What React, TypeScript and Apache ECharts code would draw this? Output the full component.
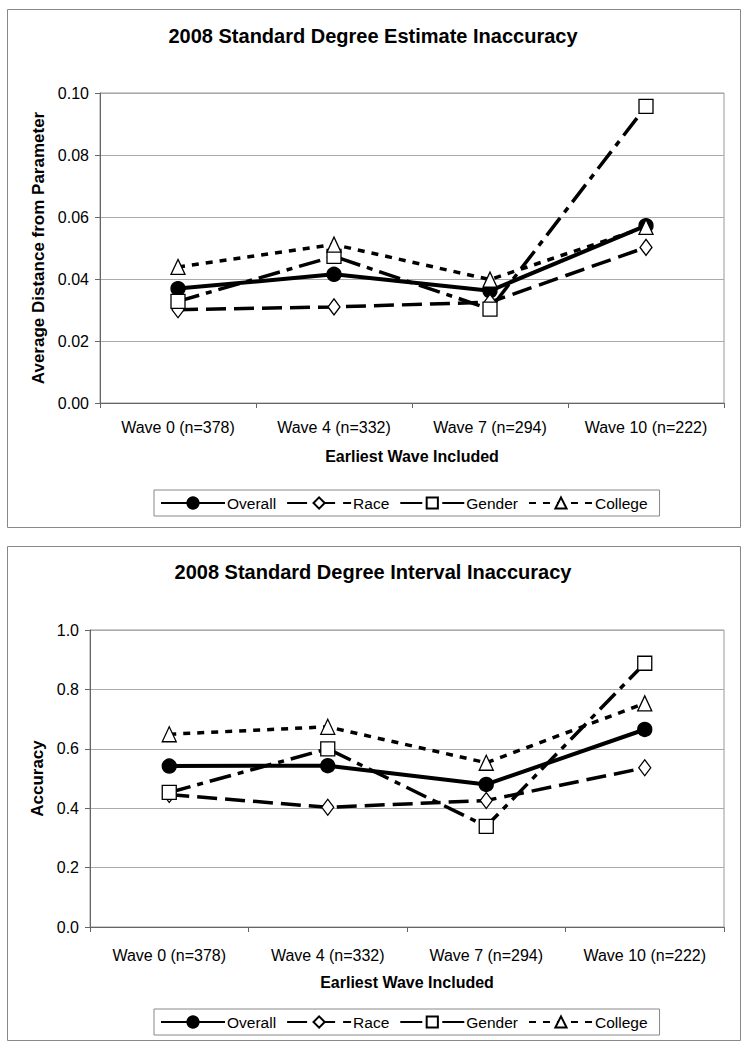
import React, { useEffect, useRef } from 'react';
import * as echarts from 'echarts';

const categories = ['Wave 0 (n=378)', 'Wave 4 (n=332)', 'Wave 7 (n=294)', 'Wave 10 (n=222)'];
const seriesNames = ['Overall', 'Race', 'Gender', 'College'];

// Chart 1: 2008 Standard Degree Estimate Inaccuracy
const estOverall = [0.0369, 0.0415, 0.0362, 0.0572];
const estRace = [0.0301, 0.031, 0.0325, 0.0502];
const estGender = [0.0328, 0.0473, 0.0303, 0.0957];
const estCollege = [0.0439, 0.0511, 0.0398, 0.0568];
const estTicks = [0, 0.02, 0.04, 0.06, 0.08, 0.1];

// Chart 2: 2008 Standard Degree Interval Inaccuracy
const intOverall = [0.542, 0.543, 0.48, 0.665];
const intRace = [0.446, 0.403, 0.426, 0.536];
const intGender = [0.453, 0.6, 0.339, 0.888];
const intCollege = [0.649, 0.674, 0.553, 0.753];
const intTicks = [0, 0.2, 0.4, 0.6, 0.8, 1.0];

const FONT = '"Liberation Sans", Arial, sans-serif';

const styles: Record<string, any> = {
  Overall: { dash: 'solid', width: 4, symbol: 'circle', size: 14, fill: '#000' },
  Race: { dash: [20, 8], width: 3.5, symbol: 'diamond', size: [12, 16], fill: '#fff' },
  Gender: { dash: [22, 7, 6, 7], width: 3.5, symbol: 'rect', size: 14, fill: '#fff' },
  College: { dash: [7, 7], width: 3.5, symbol: 'triangle', size: [14, 15], fill: '#fff' },
};

function mkSeries(name: string, data: number[], idx: number) {
  const s = styles[name];
  return {
    type: 'line',
    name,
    data,
    xAxisIndex: idx,
    yAxisIndex: idx,
    symbol: s.symbol,
    symbolSize: s.size,
    showSymbol: true,
    lineStyle: { color: '#000', width: s.width, type: s.dash },
    itemStyle: { color: s.fill, borderColor: '#000', borderWidth: 1.3 },
    emphasis: { disabled: true },
  };
}

function xAxis(idx: number, margin: number, gap: number) {
  return {
    type: 'category',
    gridIndex: idx,
    data: categories,
    boundaryGap: true,
    axisLine: { show: true, lineStyle: { color: '#666', width: 1 } },
    axisTick: { show: true, length: 5, interval: 0, lineStyle: { color: '#666' } },
    axisLabel: { color: '#000', fontSize: 16, fontFamily: FONT, margin, interval: 0, hideOverlap: false },
    name: 'Earliest Wave Included',
    nameLocation: 'middle',
    nameGap: gap,
    nameTextStyle: { color: '#000', fontSize: 16, fontWeight: 'bold', fontFamily: FONT },
  };
}

function yAxis(idx: number, ticks: number[], digits: number, name: string, gap: number) {
  return {
    type: 'value',
    gridIndex: idx,
    min: ticks[0],
    max: ticks[ticks.length - 1],
    interval: ticks[1] - ticks[0],
    axisLine: { show: true, lineStyle: { color: '#666', width: 1 } },
    axisTick: { show: true, length: 5, lineStyle: { color: '#666' } },
    axisLabel: {
      color: '#000',
      fontSize: 16,
      fontFamily: FONT,
      margin: 11,
      formatter: (v: number) => v.toFixed(digits),
    },
    splitLine: { show: true, lineStyle: { color: '#aaa', width: 1 } },
    name,
    nameLocation: 'middle',
    nameGap: gap,
    nameRotate: 90,
    nameTextStyle: { color: '#000', fontSize: 17, fontWeight: 'bold', fontFamily: FONT },
  };
}

function legend(top: number) {
  return {
    data: seriesNames,
    left: 154,
    top,
    orient: 'horizontal',
    itemWidth: 64,
    itemHeight: 14,
    itemGap: 10,
    padding: [5, 12, 5, 6],
    borderColor: '#888',
    borderWidth: 1,
    backgroundColor: '#fff',
    textStyle: { color: '#000', fontSize: 15.5, fontFamily: FONT, padding: [0, 0, 0, -3] },
    selectedMode: false,
  };
}

export default function App() {
  const ref = useRef<HTMLDivElement>(null);
  useEffect(() => {
    const chart = echarts.init(ref.current!, null, { renderer: 'svg' });
    chart.setOption({
      animation: false,
      backgroundColor: '#fff',
      textStyle: { fontFamily: FONT },
      title: [
        {
          text: '2008 Standard Degree Estimate Inaccuracy',
          left: 'center',
          top: 26,
          padding: 0,
          textStyle: { color: '#000', fontSize: 20, fontWeight: 'bold', fontFamily: FONT },
        },
        {
          text: '2008 Standard Degree Interval Inaccuracy',
          left: 'center',
          top: 562,
          padding: 0,
          textStyle: { color: '#000', fontSize: 20, fontWeight: 'bold', fontFamily: FONT },
        },
      ],
      graphic: [
        { type: 'rect', shape: { x: 7.5, y: 9.5, width: 733, height: 518 }, style: { fill: 'none', stroke: '#888', lineWidth: 1 }, silent: true, z: -10 },
        { type: 'rect', shape: { x: 7.5, y: 546.5, width: 733, height: 494 }, style: { fill: 'none', stroke: '#888', lineWidth: 1 }, silent: true, z: -10 },
      ],
      grid: [
        { left: 100, top: 93, width: 624, height: 310, show: true, borderColor: '#999', borderWidth: 1, backgroundColor: 'transparent' },
        { left: 90, top: 630, width: 634, height: 297, show: true, borderColor: '#999', borderWidth: 1, backgroundColor: 'transparent' },
      ],
      xAxis: [xAxis(0, 16, 45), xAxis(1, 20, 47)],
      yAxis: [
        yAxis(0, estTicks, 2, 'Average Distance from Parameter', 51),
        yAxis(1, intTicks, 1, 'Accuracy', 41),
      ],
      legend: [legend(490), legend(1009)],
      series: [
        mkSeries('Overall', estOverall, 0),
        mkSeries('Race', estRace, 0),
        mkSeries('Gender', estGender, 0),
        mkSeries('College', estCollege, 0),
        mkSeries('Overall', intOverall, 1),
        mkSeries('Race', intRace, 1),
        mkSeries('Gender', intGender, 1),
        mkSeries('College', intCollege, 1),
      ],
    });
    return () => chart.dispose();
  }, []);
  return (
    <div
      ref={ref}
      style={{ position: 'absolute', left: 0, top: 0, width: 746, height: 1050, background: '#fff' }}
    />
  );
}
